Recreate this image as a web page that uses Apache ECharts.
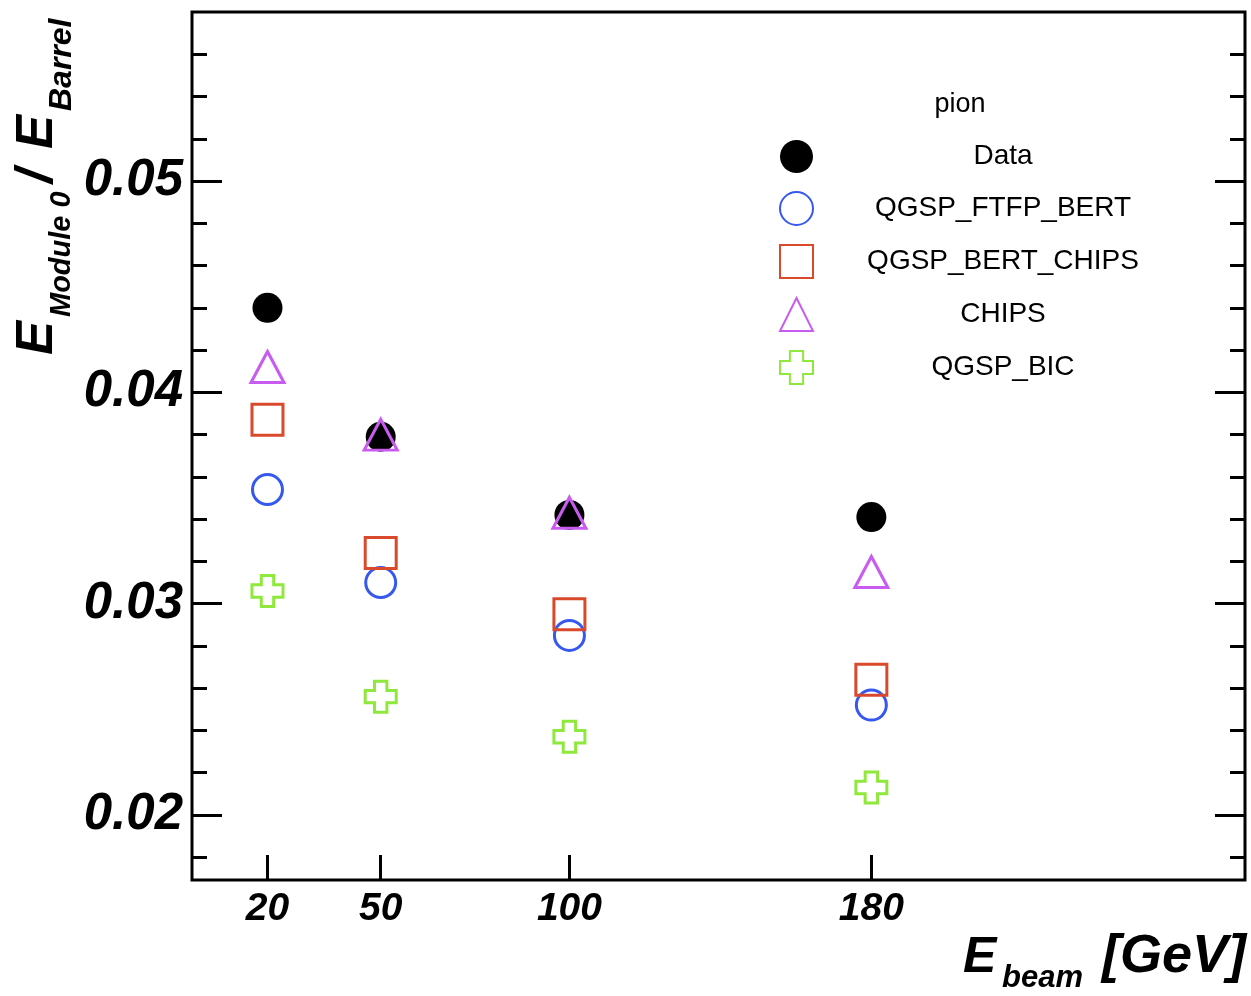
<!DOCTYPE html>
<html>
<head>
<meta charset="utf-8">
<script src="https://cdn.jsdelivr.net/npm/echarts@6/dist/echarts.min.js"></script>
<style>html,body{margin:0;padding:0;background:#fff;}#main{width:1251px;height:996px;}</style>
</head>
<body>
<div id="main"></div>
<script>
// ---- data ----
var beamEnergies = [20, 50, 100, 180];
var seriesNames = ['Data', 'QGSP_FTFP_BERT', 'QGSP_BERT_CHIPS', 'CHIPS', 'QGSP_BIC'];
var dataValues = [0.0440, 0.0379, 0.0342, 0.0341];
var ftfpBertValues = [0.0354, 0.0310, 0.0285, 0.0252];
var bertChipsValues = [0.0387, 0.0324, 0.0295, 0.0264];
var chipsValues = [0.0412, 0.0380, 0.0343, 0.0315];
var bicValues = [0.0306, 0.0256, 0.0237, 0.0213];
var xTickValues = [20, 50, 100, 180];
var yMajorTicks = [0.02, 0.03, 0.04, 0.05];
var yMinorTicks = [0.018, 0.022, 0.024, 0.026, 0.028, 0.032, 0.034, 0.036, 0.038, 0.042, 0.044, 0.046, 0.048, 0.052, 0.054, 0.056];

var FONT = "'Liberation Sans', Arial, Helvetica, sans-serif";
var yMin = 0.016924, yMax = 0.058;
var xMin = 0, xMax = 279;

function pairs(vals) { return beamEnergies.map(function (e, i) { return [e, vals[i]]; }); }

var crossPath = 'path://M-2,-5L2,-5L2,-2L5,-2L5,2L2,2L2,5L-2,5L-2,2L-5,2L-5,-2L-2,-2Z';

function yAxisDef(pos, ticks, len, labels) {
  return {
    type: 'value', min: yMin, max: yMax, position: pos,
    axisLine: { show: false },
    splitLine: { show: false },
    axisTick: { show: true, inside: true, length: len, customValues: ticks, lineStyle: { color: '#000', width: 3 } },
    axisLabel: labels ? {
      show: true, customValues: ticks, margin: 9,
      formatter: function (v) { return v.toFixed(2); },
      color: '#000', fontSize: 51, fontWeight: 'bold', fontStyle: 'italic', fontFamily: FONT
    } : { show: false }
  };
}

var chart = echarts.init(document.getElementById('main'), null, { renderer: 'canvas' });
var option = {
  backgroundColor: '#fff',
  animation: false,
  grid: { left: 192, right: 6, top: 12, bottom: 116, show: true, borderColor: '#000', borderWidth: 3, backgroundColor: 'transparent' },
  xAxis: {
    type: 'value', min: xMin, max: xMax,
    axisLine: { show: false },
    splitLine: { show: false },
    axisTick: { show: true, inside: true, length: 25, customValues: xTickValues, lineStyle: { color: '#000', width: 3 } },
    axisLabel: { show: true, customValues: xTickValues, margin: 10, color: '#000', fontSize: 39, fontWeight: 'bold', fontStyle: 'italic', fontFamily: FONT }
  },
  yAxis: [
    yAxisDef('left', yMajorTicks, 30, true),
    yAxisDef('left', yMinorTicks, 15, false),
    yAxisDef('right', yMajorTicks, 30, false),
    yAxisDef('right', yMinorTicks, 15, false)
  ],
  legend: {
    orient: 'vertical', left: 774, top: 135,
    itemWidth: 33, itemHeight: 33, itemGap: 18,
    data: seriesNames,
    formatter: function (n) { return '{t|' + n + '}'; },
    textStyle: { rich: { t: { width: 370, align: 'center', fontSize: 28, color: '#000', fontFamily: FONT } } }
  },
  graphic: [
    { type: 'text', x: 960, y: 105, style: { text: 'pion', font: "27px " + FONT, fill: '#000', textAlign: 'center', textVerticalAlign: 'middle' } },
    { type: 'text', x: 963, y: 958, style: { text: 'E', font: "italic bold 50px " + FONT, fill: '#000', textAlign: 'left', textVerticalAlign: 'middle' } },
    { type: 'text', x: 1002, y: 978, style: { text: 'beam', font: "italic bold 31px " + FONT, fill: '#000', textAlign: 'left', textVerticalAlign: 'middle' } },
    { type: 'text', x: 1246, y: 957, style: { text: '[GeV]', font: "italic bold 54px " + FONT, fill: '#000', textAlign: 'right', textVerticalAlign: 'middle' } },
    {
      type: 'group', x: 38, y: 355, rotation: Math.PI / 2,
      children: [
        { type: 'text', x: 0, y: 0, style: { text: 'E', font: "italic bold 51px " + FONT, fill: '#000', textAlign: 'left', textVerticalAlign: 'middle' } },
        { type: 'text', x: 38, y: 24, style: { text: 'Module 0', font: "italic bold 29px " + FONT, fill: '#000', textAlign: 'left', textVerticalAlign: 'middle' } },
        { type: 'text', x: 172, y: 0, style: { text: '/', font: "italic bold 51px " + FONT, fill: '#000', textAlign: 'left', textVerticalAlign: 'middle' } },
        { type: 'text', x: 206, y: 0, style: { text: 'E', font: "italic bold 51px " + FONT, fill: '#000', textAlign: 'left', textVerticalAlign: 'middle' } },
        { type: 'text', x: 244, y: 24, style: { text: 'Barrel', font: "italic bold 32px " + FONT, fill: '#000', textAlign: 'left', textVerticalAlign: 'middle' } }
      ]
    }
  ],
  series: [
    { name: 'Data', type: 'scatter', data: pairs(dataValues), symbol: 'circle', symbolSize: 30, itemStyle: { color: '#000', opacity: 1 } },
    { name: 'QGSP_FTFP_BERT', type: 'scatter', data: pairs(ftfpBertValues), symbol: 'circle', symbolSize: 30, itemStyle: { color: 'rgba(0,0,0,0)', borderColor: '#3658ef', borderWidth: 3, opacity: 1 } },
    { name: 'QGSP_BERT_CHIPS', type: 'scatter', data: pairs(bertChipsValues), symbol: 'rect', symbolSize: 31, itemStyle: { color: 'rgba(0,0,0,0)', borderColor: '#d94a2c', borderWidth: 3, opacity: 1 } },
    { name: 'CHIPS', type: 'scatter', data: pairs(chipsValues), symbol: 'triangle', symbolSize: [33, 31], itemStyle: { color: 'rgba(0,0,0,0)', borderColor: '#c95cf0', borderWidth: 3, opacity: 1 } },
    { name: 'QGSP_BIC', type: 'scatter', data: pairs(bicValues), symbol: crossPath, symbolSize: 31, itemStyle: { color: 'rgba(0,0,0,0)', borderColor: '#8fe83c', borderWidth: 3, opacity: 1 } }
  ]
};
chart.setOption(option);
</script>
</body>
</html>
